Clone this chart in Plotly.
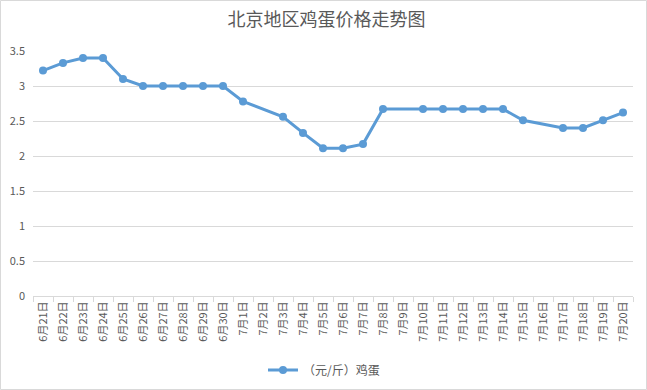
import plotly.graph_objects as go

categories = ["6月21日", "6月22日", "6月23日", "6月24日", "6月25日", "6月26日", "6月27日",
              "6月28日", "6月29日", "6月30日", "7月1日", "7月2日", "7月3日", "7月4日",
              "7月5日", "7月6日", "7月7日", "7月8日", "7月9日", "7月10日", "7月11日",
              "7月12日", "7月13日", "7月14日", "7月15日", "7月16日", "7月17日", "7月18日",
              "7月19日", "7月20日"]
prices = [3.22, 3.33, 3.40, 3.40, 3.10, 3.00, 3.00, 3.00, 3.00, 3.00, 2.78, None, 2.56, 2.33,
          2.11, 2.11, 2.17, 2.67, None, 2.67, 2.67, 2.67, 2.67, 2.67, 2.51, None, 2.40, 2.40,
          2.51, 2.62]
y_ticks = [0, 0.5, 1, 1.5, 2, 2.5, 3, 3.5]
y_tick_text = ["0", "0.5", "1", "1.5", "2", "2.5", "3", "3.5"]

FONT = "Noto Sans CJK SC, Microsoft YaHei, sans-serif"
GRAY = "#595959"
GRID = "#d9d9d9"

fig = go.Figure()
fig.add_trace(go.Scatter(
    x=categories, y=prices, mode="lines+markers", name="（元/斤）鸡蛋",
    connectgaps=True,
    line=dict(color="#5b9bd5", width=3),
    marker=dict(color="#5b9bd5", size=8),
))

W, H = 647, 390
L, R, T, B = 33, 14, 51, 94
pw, ph = W - L - R, H - T - B

fig.update_layout(
    width=W, height=H,
    margin=dict(l=L, r=R, t=T, b=B, autoexpand=False),
    paper_bgcolor="white", plot_bgcolor="white",
    font=dict(family=FONT, color=GRAY, size=11),
    title=dict(text="北京地区鸡蛋价格走势图", x=(323.5 - L) / pw * 0 + 0.5 + 3 / W, xanchor="center",
               y=1 - 20 / H, yanchor="middle",
               font=dict(family=FONT, size=18, color=GRAY)),
    showlegend=True,
    legend=dict(orientation="h", x=0.5 - 9 / pw, xanchor="center",
                y=-(370 - (T + ph)) / ph, yanchor="middle",
                font=dict(family=FONT, size=12, color=GRAY),
                bgcolor="rgba(0,0,0,0)"),
    xaxis=dict(
        type="category", categoryorder="array", categoryarray=categories,
        range=[-0.5, len(categories) - 0.5], automargin=False,
        tickangle=-90, tickfont=dict(family=FONT, size=11, color=GRAY),
        showgrid=False, showline=True, linecolor=GRID, linewidth=1,
        ticks="outside", tickson="boundaries", ticklen=5, tickcolor=GRID,
        zeroline=False, fixedrange=True,
    ),
    yaxis=dict(
        range=[0, 3.5], tickvals=y_ticks, ticktext=y_tick_text, automargin=False,
        tickfont=dict(family=FONT, size=11, color=GRAY),
        showgrid=True, gridcolor=GRID, gridwidth=1,
        showline=False, zeroline=False, ticks="", ticklabelstandoff=7,
    ),
    shapes=[dict(
        type="rect", xref="paper", yref="paper",
        x0=-(L - 0.5) / pw, x1=1 + (R - 0.5) / pw,
        y0=-(B - 0.5) / ph, y1=1 + (T - 0.5) / ph,
        line=dict(color=GRID, width=1), fillcolor="rgba(0,0,0,0)", layer="below",
    )],
)

fig.write_html("out.html", config={"displayModeBar": False},
               post_script="document.body.style.margin='0';document.body.style.overflow='hidden';")
